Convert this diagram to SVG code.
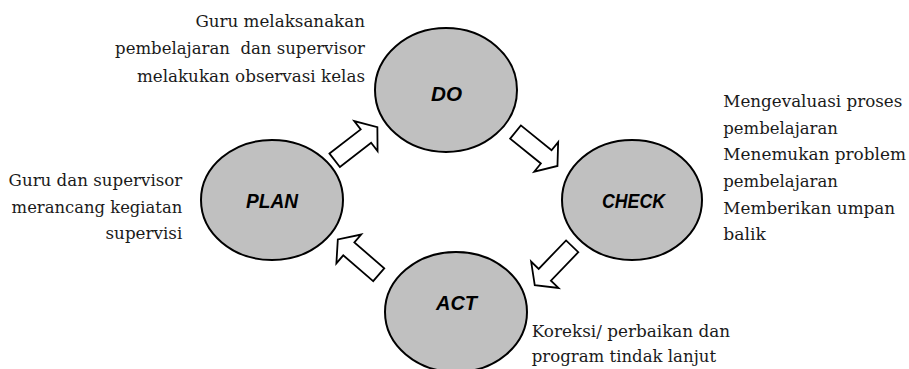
<svg xmlns="http://www.w3.org/2000/svg" width="909" height="369" viewBox="0 0 909 369">
<style>
.node{fill:#c0c0c0;stroke:#000;stroke-width:2}
.lbl{font-family:"Liberation Sans",Arial,sans-serif;font-weight:bold;font-style:italic;font-size:20px;fill:#000;text-anchor:middle}
.txt{font-family:"DejaVu Serif","Liberation Serif",serif;font-size:16.5px;fill:#1a1a1a}
.arr{fill:#fff;stroke:#000;stroke-width:1.8;stroke-linejoin:miter}
</style>
<defs>
<polygon id="blk" points="0,-8.5 39.5,-8.5 39.5,-19 54,0 39.5,19 39.5,8.5 0,8.5"/>
</defs>
<rect width="909" height="369" fill="#fff"/>
<g id="connectors">
<use href="#blk" class="arr" transform="translate(334.7,160.3) rotate(-37.8)"/>
<use href="#blk" class="arr" transform="translate(515.5,132) rotate(39)"/>
<use href="#blk" class="arr" transform="translate(572.2,246.3) rotate(133.9)"/>
<use href="#blk" class="arr" transform="translate(378.7,274.7) rotate(220.8)"/>
</g>
<g id="node-do">
<ellipse class="node" cx="446" cy="90" rx="71" ry="62"/>
<text class="lbl" x="446.5" y="100.5" textLength="31" lengthAdjust="spacingAndGlyphs">DO</text>
</g>
<g id="node-check">
<ellipse class="node" cx="632" cy="200" rx="70" ry="60"/>
<text class="lbl" x="633.5" y="207.5" textLength="63" lengthAdjust="spacingAndGlyphs">CHECK</text>
</g>
<g id="node-plan">
<ellipse class="node" cx="272" cy="200" rx="71" ry="60"/>
<text class="lbl" x="272" y="207.5" textLength="52" lengthAdjust="spacingAndGlyphs">PLAN</text>
</g>
<g id="node-act">
<ellipse class="node" cx="456" cy="312" rx="71" ry="60"/>
<text class="lbl" x="456.5" y="310" textLength="41" lengthAdjust="spacingAndGlyphs">ACT</text>
</g>
<g id="note-do" class="txt" text-anchor="end">
<text x="365" y="26.5" textLength="169.6" lengthAdjust="spacingAndGlyphs">Guru melaksanakan</text>
<text x="365" y="54" textLength="249.9" lengthAdjust="spacingAndGlyphs" xml:space="preserve">pembelajaran  dan supervisor</text>
<text x="365" y="81.5" textLength="228.1" lengthAdjust="spacingAndGlyphs">melakukan observasi kelas</text>
</g>
<g id="note-plan" class="txt" text-anchor="end">
<text x="182.3" y="186" textLength="173.7" lengthAdjust="spacingAndGlyphs">Guru dan supervisor</text>
<text x="182.3" y="212.5" textLength="170.7" lengthAdjust="spacingAndGlyphs">merancang kegiatan</text>
<text x="182.3" y="239" textLength="76.8" lengthAdjust="spacingAndGlyphs">supervisi</text>
</g>
<g id="note-check" class="txt">
<text x="723.3" y="107" textLength="179" lengthAdjust="spacingAndGlyphs">Mengevaluasi proses</text>
<text x="723.3" y="133.5" textLength="114.6" lengthAdjust="spacingAndGlyphs">pembelajaran</text>
<text x="723.3" y="160" textLength="182.6" lengthAdjust="spacingAndGlyphs">Menemukan problem</text>
<text x="723.3" y="187" textLength="114.6" lengthAdjust="spacingAndGlyphs">pembelajaran</text>
<text x="723.3" y="213.5" textLength="171.9" lengthAdjust="spacingAndGlyphs">Memberikan umpan</text>
<text x="723.3" y="240" textLength="42.6" lengthAdjust="spacingAndGlyphs">balik</text>
</g>
<g id="note-act" class="txt">
<text x="531.7" y="336.5" textLength="198.5" lengthAdjust="spacingAndGlyphs">Koreksi/ perbaikan dan</text>
<text x="531.7" y="362" textLength="184.4" lengthAdjust="spacingAndGlyphs">program tindak lanjut</text>
</g>
</svg>
